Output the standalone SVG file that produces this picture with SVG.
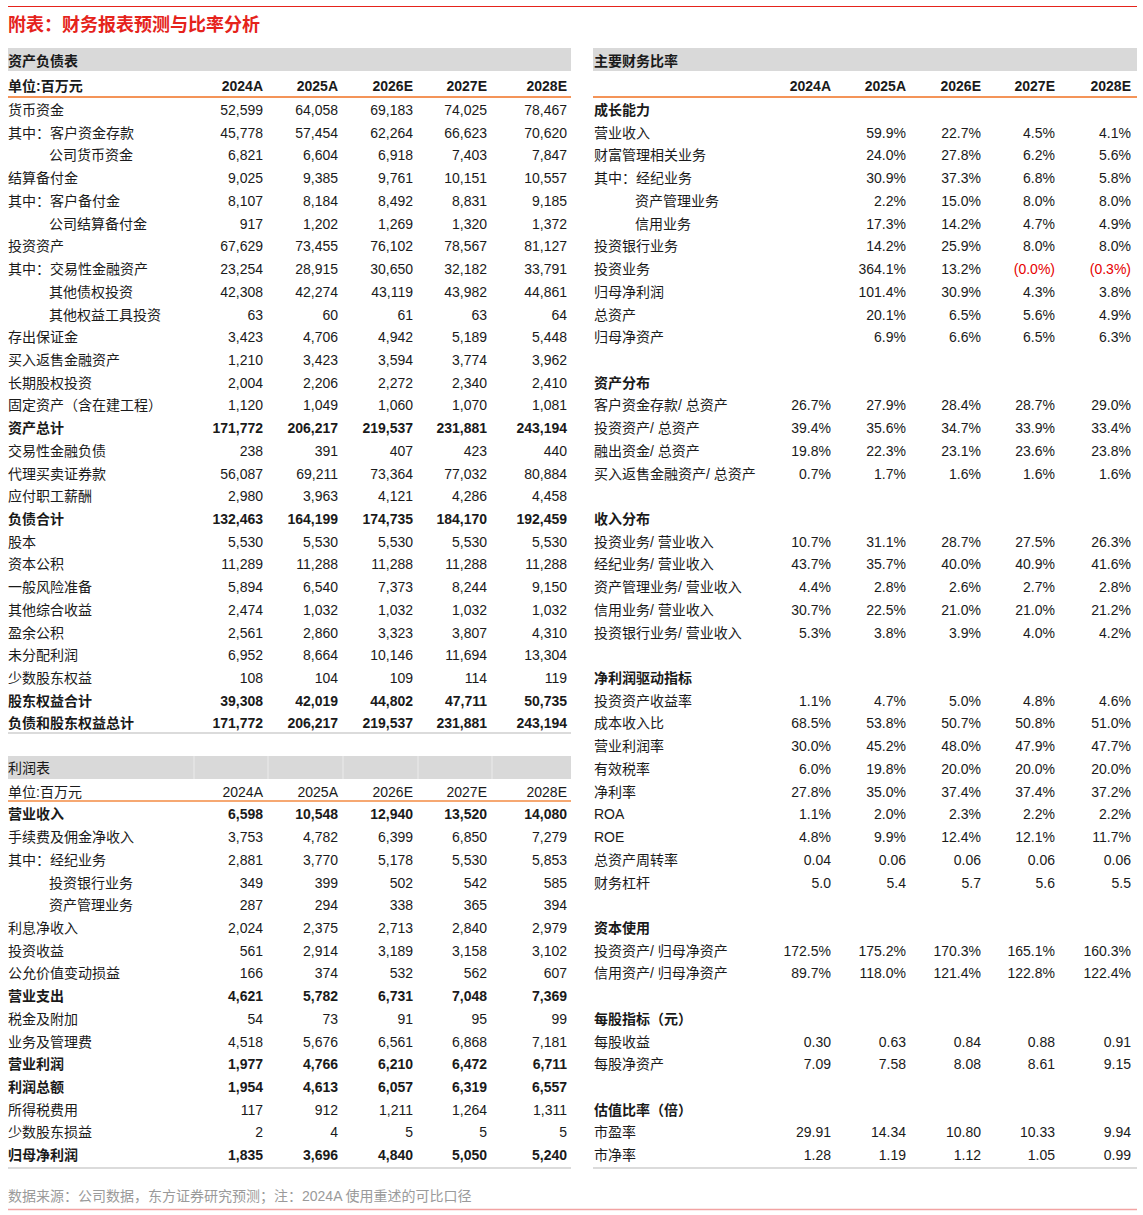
<svg xmlns="http://www.w3.org/2000/svg" width="1143" height="1215" viewBox="0 0 1143 1215">
<style>
text{font-family:"Liberation Sans","Noto Sans CJK SC",sans-serif;font-size:14px;fill:#1a1a1a}
.n{text-anchor:end}
.b{font-weight:bold}
.neg{fill:#e60000}
.title{font-size:18px;font-weight:bold;fill:#e5231b}
.src{font-size:14px;fill:#9a9a9a}
.band{fill:#d9d9d9}
.seam{stroke:#e4e4e4;stroke-width:1.5}
.orange{stroke:#f07020;stroke-width:1.5}
.peach{stroke:#f6a872;stroke-width:2}
.gline{stroke:#cfcfcf;stroke-width:1.5}
</style>
<rect width="1143" height="1215" fill="#ffffff"/>
<g id="frame">
<line x1="8" y1="6.5" x2="1137" y2="6.5" stroke="#e5231b" stroke-width="1"/>
<text class="title" x="8" y="31">附表：财务报表预测与比率分析</text>
<rect class="band" x="8" y="48" width="563" height="23"/>
<rect class="band" x="593" y="48" width="544" height="23"/>
<line class="orange" x1="8" y1="97" x2="571" y2="97"/>
<line class="orange" x1="593" y1="97" x2="1137" y2="97"/>
<line class="gline" x1="8" y1="733" x2="571" y2="733"/>
<rect class="band" x="8" y="756" width="563" height="23"/>
<line class="seam" x1="194" y1="756" x2="194" y2="779"/>
<line class="seam" x1="268" y1="756" x2="268" y2="779"/>
<line class="seam" x1="343" y1="756" x2="343" y2="779"/>
<line class="seam" x1="418" y1="756" x2="418" y2="779"/>
<line class="seam" x1="492" y1="756" x2="492" y2="779"/>
<line class="peach" x1="8" y1="801" x2="571" y2="801"/>
<line class="gline" x1="8" y1="1168" x2="571" y2="1168"/>
<line class="gline" x1="593" y1="1168" x2="1137" y2="1168"/>
<text class="src" x="8" y="1201">数据来源：公司数据，东方证券研究预测；注：2024A 使用重述的可比口径</text>
<line x1="8" y1="1209.5" x2="1137" y2="1209.5" stroke="#f2a3a3" stroke-width="1.5"/>
</g>
<g id="balance-sheet">
<g id="bs-head"><text class="b" x="8" y="66">资产负债表</text></g>
<g id="bs-unit" class="b"><text class="b" x="8" y="91">单位:百万元</text><text class="n b" x="263" y="91">2024A</text><text class="n b" x="338" y="91">2025A</text><text class="n b" x="413" y="91">2026E</text><text class="n b" x="487" y="91">2027E</text><text class="n b" x="567" y="91">2028E</text></g>
<g id="bs0"><text x="8" y="115">货币资金</text><text class="n" x="263" y="115">52,599</text><text class="n" x="338" y="115">64,058</text><text class="n" x="413" y="115">69,183</text><text class="n" x="487" y="115">74,025</text><text class="n" x="567" y="115">78,467</text></g>
<g id="bs1"><text x="8" y="137.7">其中：客户资金存款</text><text class="n" x="263" y="137.7">45,778</text><text class="n" x="338" y="137.7">57,454</text><text class="n" x="413" y="137.7">62,264</text><text class="n" x="487" y="137.7">66,623</text><text class="n" x="567" y="137.7">70,620</text></g>
<g id="bs2"><text x="49" y="160.4">公司货币资金</text><text class="n" x="263" y="160.4">6,821</text><text class="n" x="338" y="160.4">6,604</text><text class="n" x="413" y="160.4">6,918</text><text class="n" x="487" y="160.4">7,403</text><text class="n" x="567" y="160.4">7,847</text></g>
<g id="bs3"><text x="8" y="183.2">结算备付金</text><text class="n" x="263" y="183.2">9,025</text><text class="n" x="338" y="183.2">9,385</text><text class="n" x="413" y="183.2">9,761</text><text class="n" x="487" y="183.2">10,151</text><text class="n" x="567" y="183.2">10,557</text></g>
<g id="bs4"><text x="8" y="205.9">其中：客户备付金</text><text class="n" x="263" y="205.9">8,107</text><text class="n" x="338" y="205.9">8,184</text><text class="n" x="413" y="205.9">8,492</text><text class="n" x="487" y="205.9">8,831</text><text class="n" x="567" y="205.9">9,185</text></g>
<g id="bs5"><text x="49" y="228.6">公司结算备付金</text><text class="n" x="263" y="228.6">917</text><text class="n" x="338" y="228.6">1,202</text><text class="n" x="413" y="228.6">1,269</text><text class="n" x="487" y="228.6">1,320</text><text class="n" x="567" y="228.6">1,372</text></g>
<g id="bs6"><text x="8" y="251.3">投资资产</text><text class="n" x="263" y="251.3">67,629</text><text class="n" x="338" y="251.3">73,455</text><text class="n" x="413" y="251.3">76,102</text><text class="n" x="487" y="251.3">78,567</text><text class="n" x="567" y="251.3">81,127</text></g>
<g id="bs7"><text x="8" y="274">其中：交易性金融资产</text><text class="n" x="263" y="274">23,254</text><text class="n" x="338" y="274">28,915</text><text class="n" x="413" y="274">30,650</text><text class="n" x="487" y="274">32,182</text><text class="n" x="567" y="274">33,791</text></g>
<g id="bs8"><text x="49" y="296.8">其他债权投资</text><text class="n" x="263" y="296.8">42,308</text><text class="n" x="338" y="296.8">42,274</text><text class="n" x="413" y="296.8">43,119</text><text class="n" x="487" y="296.8">43,982</text><text class="n" x="567" y="296.8">44,861</text></g>
<g id="bs9"><text x="49" y="319.5">其他权益工具投资</text><text class="n" x="263" y="319.5">63</text><text class="n" x="338" y="319.5">60</text><text class="n" x="413" y="319.5">61</text><text class="n" x="487" y="319.5">63</text><text class="n" x="567" y="319.5">64</text></g>
<g id="bs10"><text x="8" y="342.2">存出保证金</text><text class="n" x="263" y="342.2">3,423</text><text class="n" x="338" y="342.2">4,706</text><text class="n" x="413" y="342.2">4,942</text><text class="n" x="487" y="342.2">5,189</text><text class="n" x="567" y="342.2">5,448</text></g>
<g id="bs11"><text x="8" y="364.9">买入返售金融资产</text><text class="n" x="263" y="364.9">1,210</text><text class="n" x="338" y="364.9">3,423</text><text class="n" x="413" y="364.9">3,594</text><text class="n" x="487" y="364.9">3,774</text><text class="n" x="567" y="364.9">3,962</text></g>
<g id="bs12"><text x="8" y="387.6">长期股权投资</text><text class="n" x="263" y="387.6">2,004</text><text class="n" x="338" y="387.6">2,206</text><text class="n" x="413" y="387.6">2,272</text><text class="n" x="487" y="387.6">2,340</text><text class="n" x="567" y="387.6">2,410</text></g>
<g id="bs13"><text x="8" y="410.4">固定资产（含在建工程）</text><text class="n" x="263" y="410.4">1,120</text><text class="n" x="338" y="410.4">1,049</text><text class="n" x="413" y="410.4">1,060</text><text class="n" x="487" y="410.4">1,070</text><text class="n" x="567" y="410.4">1,081</text></g>
<g id="bs14"><text class="b" x="8" y="433.1">资产总计</text><text class="n b" x="263" y="433.1">171,772</text><text class="n b" x="338" y="433.1">206,217</text><text class="n b" x="413" y="433.1">219,537</text><text class="n b" x="487" y="433.1">231,881</text><text class="n b" x="567" y="433.1">243,194</text></g>
<g id="bs15"><text x="8" y="455.8">交易性金融负债</text><text class="n" x="263" y="455.8">238</text><text class="n" x="338" y="455.8">391</text><text class="n" x="413" y="455.8">407</text><text class="n" x="487" y="455.8">423</text><text class="n" x="567" y="455.8">440</text></g>
<g id="bs16"><text x="8" y="478.5">代理买卖证券款</text><text class="n" x="263" y="478.5">56,087</text><text class="n" x="338" y="478.5">69,211</text><text class="n" x="413" y="478.5">73,364</text><text class="n" x="487" y="478.5">77,032</text><text class="n" x="567" y="478.5">80,884</text></g>
<g id="bs17"><text x="8" y="501.2">应付职工薪酬</text><text class="n" x="263" y="501.2">2,980</text><text class="n" x="338" y="501.2">3,963</text><text class="n" x="413" y="501.2">4,121</text><text class="n" x="487" y="501.2">4,286</text><text class="n" x="567" y="501.2">4,458</text></g>
<g id="bs18"><text class="b" x="8" y="524">负债合计</text><text class="n b" x="263" y="524">132,463</text><text class="n b" x="338" y="524">164,199</text><text class="n b" x="413" y="524">174,735</text><text class="n b" x="487" y="524">184,170</text><text class="n b" x="567" y="524">192,459</text></g>
<g id="bs19"><text x="8" y="546.7">股本</text><text class="n" x="263" y="546.7">5,530</text><text class="n" x="338" y="546.7">5,530</text><text class="n" x="413" y="546.7">5,530</text><text class="n" x="487" y="546.7">5,530</text><text class="n" x="567" y="546.7">5,530</text></g>
<g id="bs20"><text x="8" y="569.4">资本公积</text><text class="n" x="263" y="569.4">11,289</text><text class="n" x="338" y="569.4">11,288</text><text class="n" x="413" y="569.4">11,288</text><text class="n" x="487" y="569.4">11,288</text><text class="n" x="567" y="569.4">11,288</text></g>
<g id="bs21"><text x="8" y="592.1">一般风险准备</text><text class="n" x="263" y="592.1">5,894</text><text class="n" x="338" y="592.1">6,540</text><text class="n" x="413" y="592.1">7,373</text><text class="n" x="487" y="592.1">8,244</text><text class="n" x="567" y="592.1">9,150</text></g>
<g id="bs22"><text x="8" y="614.8">其他综合收益</text><text class="n" x="263" y="614.8">2,474</text><text class="n" x="338" y="614.8">1,032</text><text class="n" x="413" y="614.8">1,032</text><text class="n" x="487" y="614.8">1,032</text><text class="n" x="567" y="614.8">1,032</text></g>
<g id="bs23"><text x="8" y="637.6">盈余公积</text><text class="n" x="263" y="637.6">2,561</text><text class="n" x="338" y="637.6">2,860</text><text class="n" x="413" y="637.6">3,323</text><text class="n" x="487" y="637.6">3,807</text><text class="n" x="567" y="637.6">4,310</text></g>
<g id="bs24"><text x="8" y="660.3">未分配利润</text><text class="n" x="263" y="660.3">6,952</text><text class="n" x="338" y="660.3">8,664</text><text class="n" x="413" y="660.3">10,146</text><text class="n" x="487" y="660.3">11,694</text><text class="n" x="567" y="660.3">13,304</text></g>
<g id="bs25"><text x="8" y="683">少数股东权益</text><text class="n" x="263" y="683">108</text><text class="n" x="338" y="683">104</text><text class="n" x="413" y="683">109</text><text class="n" x="487" y="683">114</text><text class="n" x="567" y="683">119</text></g>
<g id="bs26"><text class="b" x="8" y="705.7">股东权益合计</text><text class="n b" x="263" y="705.7">39,308</text><text class="n b" x="338" y="705.7">42,019</text><text class="n b" x="413" y="705.7">44,802</text><text class="n b" x="487" y="705.7">47,711</text><text class="n b" x="567" y="705.7">50,735</text></g>
<g id="bs27"><text class="b" x="8" y="728.4">负债和股东权益总计</text><text class="n b" x="263" y="728.4">171,772</text><text class="n b" x="338" y="728.4">206,217</text><text class="n b" x="413" y="728.4">219,537</text><text class="n b" x="487" y="728.4">231,881</text><text class="n b" x="567" y="728.4">243,194</text></g>
</g>
<g id="income-statement">
<g id="is-head"><text x="8" y="773">利润表</text></g>
<g id="is-unit"><text x="8" y="796.6">单位:百万元</text><text class="n" x="263" y="796.6">2024A</text><text class="n" x="338" y="796.6">2025A</text><text class="n" x="413" y="796.6">2026E</text><text class="n" x="487" y="796.6">2027E</text><text class="n" x="567" y="796.6">2028E</text></g>
<g id="is0"><text class="b" x="8" y="819.3">营业收入</text><text class="n b" x="263" y="819.3">6,598</text><text class="n b" x="338" y="819.3">10,548</text><text class="n b" x="413" y="819.3">12,940</text><text class="n b" x="487" y="819.3">13,520</text><text class="n b" x="567" y="819.3">14,080</text></g>
<g id="is1"><text x="8" y="842">手续费及佣金净收入</text><text class="n" x="263" y="842">3,753</text><text class="n" x="338" y="842">4,782</text><text class="n" x="413" y="842">6,399</text><text class="n" x="487" y="842">6,850</text><text class="n" x="567" y="842">7,279</text></g>
<g id="is2"><text x="8" y="864.8">其中：经纪业务</text><text class="n" x="263" y="864.8">2,881</text><text class="n" x="338" y="864.8">3,770</text><text class="n" x="413" y="864.8">5,178</text><text class="n" x="487" y="864.8">5,530</text><text class="n" x="567" y="864.8">5,853</text></g>
<g id="is3"><text x="49" y="887.5">投资银行业务</text><text class="n" x="263" y="887.5">349</text><text class="n" x="338" y="887.5">399</text><text class="n" x="413" y="887.5">502</text><text class="n" x="487" y="887.5">542</text><text class="n" x="567" y="887.5">585</text></g>
<g id="is4"><text x="49" y="910.2">资产管理业务</text><text class="n" x="263" y="910.2">287</text><text class="n" x="338" y="910.2">294</text><text class="n" x="413" y="910.2">338</text><text class="n" x="487" y="910.2">365</text><text class="n" x="567" y="910.2">394</text></g>
<g id="is5"><text x="8" y="932.9">利息净收入</text><text class="n" x="263" y="932.9">2,024</text><text class="n" x="338" y="932.9">2,375</text><text class="n" x="413" y="932.9">2,713</text><text class="n" x="487" y="932.9">2,840</text><text class="n" x="567" y="932.9">2,979</text></g>
<g id="is6"><text x="8" y="955.6">投资收益</text><text class="n" x="263" y="955.6">561</text><text class="n" x="338" y="955.6">2,914</text><text class="n" x="413" y="955.6">3,189</text><text class="n" x="487" y="955.6">3,158</text><text class="n" x="567" y="955.6">3,102</text></g>
<g id="is7"><text x="8" y="978.4">公允价值变动损益</text><text class="n" x="263" y="978.4">166</text><text class="n" x="338" y="978.4">374</text><text class="n" x="413" y="978.4">532</text><text class="n" x="487" y="978.4">562</text><text class="n" x="567" y="978.4">607</text></g>
<g id="is8"><text class="b" x="8" y="1001.1">营业支出</text><text class="n b" x="263" y="1001.1">4,621</text><text class="n b" x="338" y="1001.1">5,782</text><text class="n b" x="413" y="1001.1">6,731</text><text class="n b" x="487" y="1001.1">7,048</text><text class="n b" x="567" y="1001.1">7,369</text></g>
<g id="is9"><text x="8" y="1023.8">税金及附加</text><text class="n" x="263" y="1023.8">54</text><text class="n" x="338" y="1023.8">73</text><text class="n" x="413" y="1023.8">91</text><text class="n" x="487" y="1023.8">95</text><text class="n" x="567" y="1023.8">99</text></g>
<g id="is10"><text x="8" y="1046.5">业务及管理费</text><text class="n" x="263" y="1046.5">4,518</text><text class="n" x="338" y="1046.5">5,676</text><text class="n" x="413" y="1046.5">6,561</text><text class="n" x="487" y="1046.5">6,868</text><text class="n" x="567" y="1046.5">7,181</text></g>
<g id="is11"><text class="b" x="8" y="1069.2">营业利润</text><text class="n b" x="263" y="1069.2">1,977</text><text class="n b" x="338" y="1069.2">4,766</text><text class="n b" x="413" y="1069.2">6,210</text><text class="n b" x="487" y="1069.2">6,472</text><text class="n b" x="567" y="1069.2">6,711</text></g>
<g id="is12"><text class="b" x="8" y="1092">利润总额</text><text class="n b" x="263" y="1092">1,954</text><text class="n b" x="338" y="1092">4,613</text><text class="n b" x="413" y="1092">6,057</text><text class="n b" x="487" y="1092">6,319</text><text class="n b" x="567" y="1092">6,557</text></g>
<g id="is13"><text x="8" y="1114.7">所得税费用</text><text class="n" x="263" y="1114.7">117</text><text class="n" x="338" y="1114.7">912</text><text class="n" x="413" y="1114.7">1,211</text><text class="n" x="487" y="1114.7">1,264</text><text class="n" x="567" y="1114.7">1,311</text></g>
<g id="is14"><text x="8" y="1137.4">少数股东损益</text><text class="n" x="263" y="1137.4">2</text><text class="n" x="338" y="1137.4">4</text><text class="n" x="413" y="1137.4">5</text><text class="n" x="487" y="1137.4">5</text><text class="n" x="567" y="1137.4">5</text></g>
<g id="is15"><text class="b" x="8" y="1160.1">归母净利润</text><text class="n b" x="263" y="1160.1">1,835</text><text class="n b" x="338" y="1160.1">3,696</text><text class="n b" x="413" y="1160.1">4,840</text><text class="n b" x="487" y="1160.1">5,050</text><text class="n b" x="567" y="1160.1">5,240</text></g>
</g>
<g id="ratios">
<g id="r-head"><text class="b" x="594" y="66">主要财务比率</text></g>
<g id="r-years"><text class="n b" x="831" y="91">2024A</text><text class="n b" x="906" y="91">2025A</text><text class="n b" x="981" y="91">2026E</text><text class="n b" x="1055" y="91">2027E</text><text class="n b" x="1131" y="91">2028E</text></g>
<g id="r0"><text class="b" x="594" y="115">成长能力</text></g>
<g id="r1"><text x="594" y="137.7">营业收入</text><text class="n" x="906" y="137.7">59.9%</text><text class="n" x="981" y="137.7">22.7%</text><text class="n" x="1055" y="137.7">4.5%</text><text class="n" x="1131" y="137.7">4.1%</text></g>
<g id="r2"><text x="594" y="160.4">财富管理相关业务</text><text class="n" x="906" y="160.4">24.0%</text><text class="n" x="981" y="160.4">27.8%</text><text class="n" x="1055" y="160.4">6.2%</text><text class="n" x="1131" y="160.4">5.6%</text></g>
<g id="r3"><text x="594" y="183.2">其中：经纪业务</text><text class="n" x="906" y="183.2">30.9%</text><text class="n" x="981" y="183.2">37.3%</text><text class="n" x="1055" y="183.2">6.8%</text><text class="n" x="1131" y="183.2">5.8%</text></g>
<g id="r4"><text x="635" y="205.9">资产管理业务</text><text class="n" x="906" y="205.9">2.2%</text><text class="n" x="981" y="205.9">15.0%</text><text class="n" x="1055" y="205.9">8.0%</text><text class="n" x="1131" y="205.9">8.0%</text></g>
<g id="r5"><text x="635" y="228.6">信用业务</text><text class="n" x="906" y="228.6">17.3%</text><text class="n" x="981" y="228.6">14.2%</text><text class="n" x="1055" y="228.6">4.7%</text><text class="n" x="1131" y="228.6">4.9%</text></g>
<g id="r6"><text x="594" y="251.3">投资银行业务</text><text class="n" x="906" y="251.3">14.2%</text><text class="n" x="981" y="251.3">25.9%</text><text class="n" x="1055" y="251.3">8.0%</text><text class="n" x="1131" y="251.3">8.0%</text></g>
<g id="r7"><text x="594" y="274">投资业务</text><text class="n" x="906" y="274">364.1%</text><text class="n" x="981" y="274">13.2%</text><text class="n neg" x="1055" y="274">(0.0%)</text><text class="n neg" x="1131" y="274">(0.3%)</text></g>
<g id="r8"><text x="594" y="296.8">归母净利润</text><text class="n" x="906" y="296.8">101.4%</text><text class="n" x="981" y="296.8">30.9%</text><text class="n" x="1055" y="296.8">4.3%</text><text class="n" x="1131" y="296.8">3.8%</text></g>
<g id="r9"><text x="594" y="319.5">总资产</text><text class="n" x="906" y="319.5">20.1%</text><text class="n" x="981" y="319.5">6.5%</text><text class="n" x="1055" y="319.5">5.6%</text><text class="n" x="1131" y="319.5">4.9%</text></g>
<g id="r10"><text x="594" y="342.2">归母净资产</text><text class="n" x="906" y="342.2">6.9%</text><text class="n" x="981" y="342.2">6.6%</text><text class="n" x="1055" y="342.2">6.5%</text><text class="n" x="1131" y="342.2">6.3%</text></g>
<g id="r12"><text class="b" x="594" y="387.6">资产分布</text></g>
<g id="r13"><text x="594" y="410.4">客户资金存款/ 总资产</text><text class="n" x="831" y="410.4">26.7%</text><text class="n" x="906" y="410.4">27.9%</text><text class="n" x="981" y="410.4">28.4%</text><text class="n" x="1055" y="410.4">28.7%</text><text class="n" x="1131" y="410.4">29.0%</text></g>
<g id="r14"><text x="594" y="433.1">投资资产/ 总资产</text><text class="n" x="831" y="433.1">39.4%</text><text class="n" x="906" y="433.1">35.6%</text><text class="n" x="981" y="433.1">34.7%</text><text class="n" x="1055" y="433.1">33.9%</text><text class="n" x="1131" y="433.1">33.4%</text></g>
<g id="r15"><text x="594" y="455.8">融出资金/ 总资产</text><text class="n" x="831" y="455.8">19.8%</text><text class="n" x="906" y="455.8">22.3%</text><text class="n" x="981" y="455.8">23.1%</text><text class="n" x="1055" y="455.8">23.6%</text><text class="n" x="1131" y="455.8">23.8%</text></g>
<g id="r16"><text x="594" y="478.5">买入返售金融资产/ 总资产</text><text class="n" x="831" y="478.5">0.7%</text><text class="n" x="906" y="478.5">1.7%</text><text class="n" x="981" y="478.5">1.6%</text><text class="n" x="1055" y="478.5">1.6%</text><text class="n" x="1131" y="478.5">1.6%</text></g>
<g id="r18"><text class="b" x="594" y="524">收入分布</text></g>
<g id="r19"><text x="594" y="546.7">投资业务/ 营业收入</text><text class="n" x="831" y="546.7">10.7%</text><text class="n" x="906" y="546.7">31.1%</text><text class="n" x="981" y="546.7">28.7%</text><text class="n" x="1055" y="546.7">27.5%</text><text class="n" x="1131" y="546.7">26.3%</text></g>
<g id="r20"><text x="594" y="569.4">经纪业务/ 营业收入</text><text class="n" x="831" y="569.4">43.7%</text><text class="n" x="906" y="569.4">35.7%</text><text class="n" x="981" y="569.4">40.0%</text><text class="n" x="1055" y="569.4">40.9%</text><text class="n" x="1131" y="569.4">41.6%</text></g>
<g id="r21"><text x="594" y="592.1">资产管理业务/ 营业收入</text><text class="n" x="831" y="592.1">4.4%</text><text class="n" x="906" y="592.1">2.8%</text><text class="n" x="981" y="592.1">2.6%</text><text class="n" x="1055" y="592.1">2.7%</text><text class="n" x="1131" y="592.1">2.8%</text></g>
<g id="r22"><text x="594" y="614.8">信用业务/ 营业收入</text><text class="n" x="831" y="614.8">30.7%</text><text class="n" x="906" y="614.8">22.5%</text><text class="n" x="981" y="614.8">21.0%</text><text class="n" x="1055" y="614.8">21.0%</text><text class="n" x="1131" y="614.8">21.2%</text></g>
<g id="r23"><text x="594" y="637.6">投资银行业务/ 营业收入</text><text class="n" x="831" y="637.6">5.3%</text><text class="n" x="906" y="637.6">3.8%</text><text class="n" x="981" y="637.6">3.9%</text><text class="n" x="1055" y="637.6">4.0%</text><text class="n" x="1131" y="637.6">4.2%</text></g>
<g id="r25"><text class="b" x="594" y="683">净利润驱动指标</text></g>
<g id="r26"><text x="594" y="705.7">投资资产收益率</text><text class="n" x="831" y="705.7">1.1%</text><text class="n" x="906" y="705.7">4.7%</text><text class="n" x="981" y="705.7">5.0%</text><text class="n" x="1055" y="705.7">4.8%</text><text class="n" x="1131" y="705.7">4.6%</text></g>
<g id="r27"><text x="594" y="728.4">成本收入比</text><text class="n" x="831" y="728.4">68.5%</text><text class="n" x="906" y="728.4">53.8%</text><text class="n" x="981" y="728.4">50.7%</text><text class="n" x="1055" y="728.4">50.8%</text><text class="n" x="1131" y="728.4">51.0%</text></g>
<g id="r28"><text x="594" y="751.2">营业利润率</text><text class="n" x="831" y="751.2">30.0%</text><text class="n" x="906" y="751.2">45.2%</text><text class="n" x="981" y="751.2">48.0%</text><text class="n" x="1055" y="751.2">47.9%</text><text class="n" x="1131" y="751.2">47.7%</text></g>
<g id="r29"><text x="594" y="773.9">有效税率</text><text class="n" x="831" y="773.9">6.0%</text><text class="n" x="906" y="773.9">19.8%</text><text class="n" x="981" y="773.9">20.0%</text><text class="n" x="1055" y="773.9">20.0%</text><text class="n" x="1131" y="773.9">20.0%</text></g>
<g id="r30"><text x="594" y="796.6">净利率</text><text class="n" x="831" y="796.6">27.8%</text><text class="n" x="906" y="796.6">35.0%</text><text class="n" x="981" y="796.6">37.4%</text><text class="n" x="1055" y="796.6">37.4%</text><text class="n" x="1131" y="796.6">37.2%</text></g>
<g id="r31"><text x="594" y="819.3">ROA</text><text class="n" x="831" y="819.3">1.1%</text><text class="n" x="906" y="819.3">2.0%</text><text class="n" x="981" y="819.3">2.3%</text><text class="n" x="1055" y="819.3">2.2%</text><text class="n" x="1131" y="819.3">2.2%</text></g>
<g id="r32"><text x="594" y="842">ROE</text><text class="n" x="831" y="842">4.8%</text><text class="n" x="906" y="842">9.9%</text><text class="n" x="981" y="842">12.4%</text><text class="n" x="1055" y="842">12.1%</text><text class="n" x="1131" y="842">11.7%</text></g>
<g id="r33"><text x="594" y="864.8">总资产周转率</text><text class="n" x="831" y="864.8">0.04</text><text class="n" x="906" y="864.8">0.06</text><text class="n" x="981" y="864.8">0.06</text><text class="n" x="1055" y="864.8">0.06</text><text class="n" x="1131" y="864.8">0.06</text></g>
<g id="r34"><text x="594" y="887.5">财务杠杆</text><text class="n" x="831" y="887.5">5.0</text><text class="n" x="906" y="887.5">5.4</text><text class="n" x="981" y="887.5">5.7</text><text class="n" x="1055" y="887.5">5.6</text><text class="n" x="1131" y="887.5">5.5</text></g>
<g id="r36"><text class="b" x="594" y="932.9">资本使用</text></g>
<g id="r37"><text x="594" y="955.6">投资资产/ 归母净资产</text><text class="n" x="831" y="955.6">172.5%</text><text class="n" x="906" y="955.6">175.2%</text><text class="n" x="981" y="955.6">170.3%</text><text class="n" x="1055" y="955.6">165.1%</text><text class="n" x="1131" y="955.6">160.3%</text></g>
<g id="r38"><text x="594" y="978.4">信用资产/ 归母净资产</text><text class="n" x="831" y="978.4">89.7%</text><text class="n" x="906" y="978.4">118.0%</text><text class="n" x="981" y="978.4">121.4%</text><text class="n" x="1055" y="978.4">122.8%</text><text class="n" x="1131" y="978.4">122.4%</text></g>
<g id="r40"><text class="b" x="594" y="1023.8">每股指标（元）</text></g>
<g id="r41"><text x="594" y="1046.5">每股收益</text><text class="n" x="831" y="1046.5">0.30</text><text class="n" x="906" y="1046.5">0.63</text><text class="n" x="981" y="1046.5">0.84</text><text class="n" x="1055" y="1046.5">0.88</text><text class="n" x="1131" y="1046.5">0.91</text></g>
<g id="r42"><text x="594" y="1069.2">每股净资产</text><text class="n" x="831" y="1069.2">7.09</text><text class="n" x="906" y="1069.2">7.58</text><text class="n" x="981" y="1069.2">8.08</text><text class="n" x="1055" y="1069.2">8.61</text><text class="n" x="1131" y="1069.2">9.15</text></g>
<g id="r44"><text class="b" x="594" y="1114.7">估值比率（倍）</text></g>
<g id="r45"><text x="594" y="1137.4">市盈率</text><text class="n" x="831" y="1137.4">29.91</text><text class="n" x="906" y="1137.4">14.34</text><text class="n" x="981" y="1137.4">10.80</text><text class="n" x="1055" y="1137.4">10.33</text><text class="n" x="1131" y="1137.4">9.94</text></g>
<g id="r46"><text x="594" y="1160.1">市净率</text><text class="n" x="831" y="1160.1">1.28</text><text class="n" x="906" y="1160.1">1.19</text><text class="n" x="981" y="1160.1">1.12</text><text class="n" x="1055" y="1160.1">1.05</text><text class="n" x="1131" y="1160.1">0.99</text></g>
</g>
<g id="connectors"></g>
</svg>
